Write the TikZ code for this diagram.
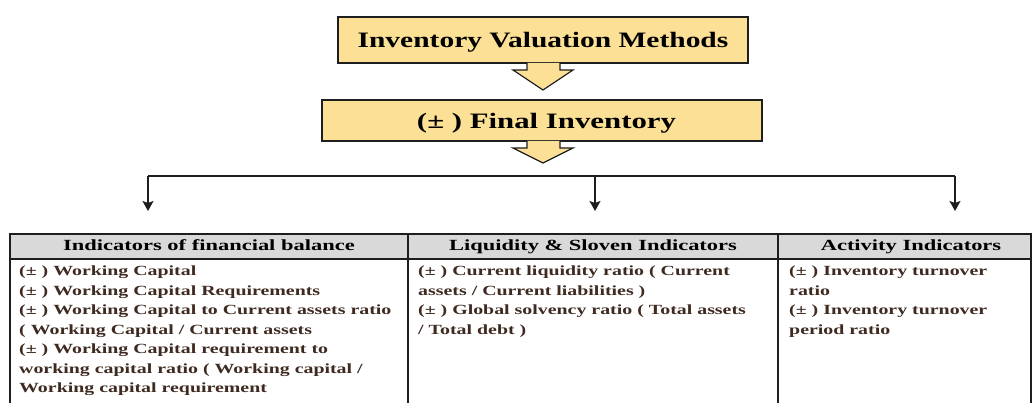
\documentclass[tikz,border=0pt]{standalone}
\usepackage{fontspec}
\setmainfont{Liberation Serif}
\newfontfamily\titlefont[FakeStretch=1.34]{Liberation Serif}
\newfontfamily\titlefontb[FakeStretch=1.40]{Liberation Serif}
\newfontfamily\hdrfont[FakeStretch=1.45]{Liberation Serif}
\newfontfamily\bodyfont[FakeStretch=1.42]{Liberation Serif}
\usetikzlibrary{arrows.meta}
\definecolor{boxfill}{RGB}{252,224,150}
\definecolor{hdrfill}{RGB}{217,217,217}
\definecolor{bodytxt}{RGB}{62,42,32}
\definecolor{linecol}{RGB}{30,30,30}
\tikzset{
  titlebox/.style={draw=linecol, line width=1.6pt, fill=boxfill, inner sep=0pt},
  titletxt/.style={font=\titlefont\fontsize{22}{24}\selectfont\bfseries, text=black, anchor=base, inner sep=0pt},
  blockarrow/.style={draw=linecol, line width=1.2pt, fill=boxfill, line join=miter},
  conn/.style={draw=linecol, line width=1.6pt},
  connarrow/.style={conn, -{Stealth[length=10pt,width=11pt,inset=2pt]}},
  tbl/.style={draw=linecol, line width=1.6pt},
  hdrtxt/.style={font=\hdrfont\fontsize{15.5}{18}\selectfont\bfseries, text=black, anchor=base, inner sep=0pt},
  bodytext/.style={font=\bodyfont\fontsize{14}{19.5}\selectfont\bfseries, text=bodytxt, anchor=north west, align=left, inner sep=0pt},
}
\begin{document}
\begin{tikzpicture}[x=1pt,y=-1pt]
\clip (0,0) rectangle (1033,403);
\useasboundingbox (0,0) rectangle (1033,403);
% title boxes
\node[titlebox, minimum width=410pt, minimum height=46pt] (ivm) at (543,40) {};
\node[titletxt] (ivmt) at (543,48) {Inventory Valuation Methods};
\node[titlebox, minimum width=440pt, minimum height=41pt] (fi) at (542,120.5) {};
\node[titletxt, font=\titlefontb\fontsize{22}{24}\selectfont\bfseries] (fit) at (546.5,128.5) {(± ) Final Inventory};
% block arrows
\draw[blockarrow] (527,63) -- (527,70) -- (513,70) -- (543,90) -- (573,70) -- (560,70) -- (560,63);
\draw[blockarrow] (527,141) -- (527,148) -- (513,148) -- (543,163) -- (573,148) -- (560,148) -- (560,141);
% connectors
\coordinate (cl) at (148,176);
\coordinate (cm) at (595,176);
\coordinate (cr) at (955,176);
\coordinate (tl) at (148,211);
\coordinate (tm) at (595,211);
\coordinate (tr) at (955,211);
\draw[conn] (cl) -- (cr);
\draw[connarrow] (cl) -- (tl);
\draw[connarrow] (cm) -- (tm);
\draw[connarrow] (cr) -- (tr);
% table
\fill[hdrfill] (10,234) rectangle (1031,259);
\draw[tbl] (10,420) -- (10,234) -- (1031,234) -- (1031,420);
\draw[tbl] (10,259) -- (1031,259);
\draw[tbl] (408,234) -- (408,420);
\draw[tbl] (778,234) -- (778,420);
\node[hdrtxt] (h1) at (209,250.5) {Indicators of financial balance};
\node[hdrtxt] (h2) at (593,250.5) {Liquidity \& Sloven Indicators};
\node[hdrtxt] (h3) at (911,250.5) {Activity Indicators};
\node[bodytext] (b1) at (19,266) {(± ) Working Capital\\(± ) Working Capital Requirements\\(± ) Working Capital to Current assets ratio\\( Working Capital / Current assets\\(± ) Working Capital requirement to\\working capital ratio ( Working capital /\\Working capital requirement};
\node[bodytext] (b2) at (418,266) {(± ) Current liquidity ratio ( Current\\assets / Current liabilities )\\(± ) Global solvency ratio ( Total assets\\/ Total debt )};
\node[bodytext] (b3) at (789,266) {(± ) Inventory turnover\\ratio\\(± ) Inventory turnover\\period ratio};
\end{tikzpicture}
\end{document}
